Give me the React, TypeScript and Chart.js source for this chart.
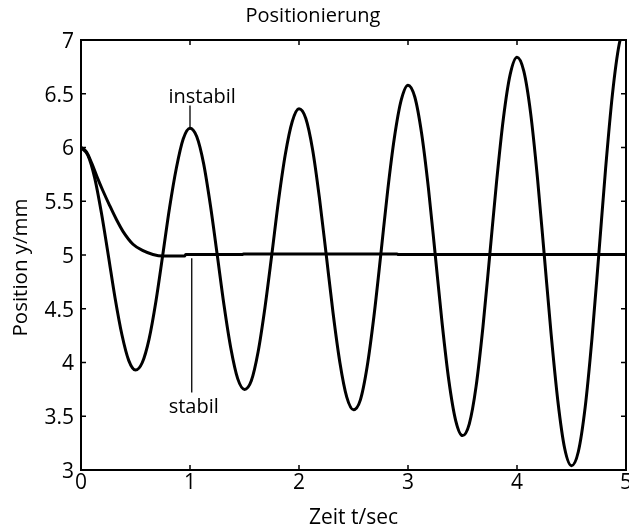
import React, { useEffect, useRef } from "react";
import { Chart, registerables } from "chart.js";

Chart.register(...registerables);

// ---- data ----
const tInstabil = [
  0, 0.0625, 0.125, 0.1875, 0.25, 0.3125, 0.375, 0.4375,
  0.5, 0.5625, 0.625, 0.6875, 0.75, 0.8125, 0.875, 0.9375,
  1, 1.0625, 1.125, 1.1875, 1.25, 1.3125, 1.375, 1.4375,
  1.5, 1.5625, 1.625, 1.6875, 1.75, 1.8125, 1.875, 1.9375,
  2, 2.0625, 2.125, 2.1875, 2.25, 2.3125, 2.375, 2.4375,
  2.5, 2.5625, 2.625, 2.6875, 2.75, 2.8125, 2.875, 2.9375,
  3, 3.0625, 3.125, 3.1875, 3.25, 3.3125, 3.375, 3.4375,
  3.5, 3.5625, 3.625, 3.6875, 3.75, 3.8125, 3.875, 3.9375,
  4, 4.0625, 4.125, 4.1875, 4.25, 4.3125, 4.375, 4.4375,
  4.5, 4.5625, 4.625, 4.6875, 4.75, 4.8125, 4.875, 4.9375,
  5,
];
const yInstabil = [
  6.0, 5.93, 5.72, 5.39, 5.0, 4.6, 4.26, 4.02,
  3.93, 4.0, 4.22, 4.57, 5.0, 5.44, 5.81, 6.08,
  6.18, 6.1, 5.85, 5.46, 5.0, 4.53, 4.13, 3.85,
  3.75, 3.83, 4.1, 4.51, 5.0, 5.51, 5.94, 6.24,
  6.36, 6.27, 5.98, 5.53, 5.0, 4.46, 4.0, 3.68,
  3.56, 3.65, 3.96, 4.43, 5.0, 5.59, 6.09, 6.44,
  6.58, 6.47, 6.13, 5.62, 5.0, 4.37, 3.83, 3.46,
  3.32, 3.43, 3.78, 4.33, 5.0, 5.68, 6.27, 6.68,
  6.84, 6.71, 6.32, 5.72, 5.0, 4.27, 3.64, 3.2,
  3.04, 3.17, 3.58, 4.22, 5.0, 5.8, 6.49, 6.96,
  7.15,
];

const tStabil = [0, 0.05, 0.1, 0.15, 0.2, 0.263, 0.325, 0.385, 0.477, 0.569, 0.66, 0.75, 0.95, 0.96, 1.48, 1.49, 2.9, 2.91, 5];
const yStabil = [6, 5.96, 5.85, 5.72, 5.6, 5.46, 5.33, 5.22, 5.1, 5.04, 5.005, 4.99, 4.99, 5.005, 5.005, 5.01, 5.01, 5.005, 5.005];

const xTickValues = [0, 1, 2, 3, 4, 5];
const xTickLabels = ["0", "1", "2", "3", "4", "5"];
const yTickValues = [3, 3.5, 4, 4.5, 5, 5.5, 6, 6.5, 7];
const yTickLabels = ["3", "3.5", "4", "4.5", "5", "5.5", "6", "6.5", "7"];

const titleText = "Positionierung";
const xTitle = "Zeit t/sec";
const yTitle = "Position y/mm";

// annotation labels (data coordinates)
const annoLabels = ["instabil", "stabil"];
const annoLabelX = [1.112, 1.034];
const annoLabelY = [6.414, 3.53];
const annoLineX = [1.0, 1.016];
const annoLineY0 = [6.39, 4.97];
const annoLineY1 = [6.18, 3.72];

const FONT = "'Open Sans'";
const TICK_LEN = 5;

export default function App() {
  const ref = useRef<HTMLCanvasElement | null>(null);

  useEffect(() => {
    const canvas = ref.current;
    if (!canvas) return;

    const framePlugin = {
      id: "frame",
      afterDatasetsDraw(chart: any) {
        const { ctx, chartArea: a, scales } = chart;
        const xs = scales.x;
        const ys = scales.y;
        ctx.save();
        ctx.strokeStyle = "#000";
        ctx.lineWidth = 2;
        ctx.strokeRect(a.left, a.top, a.right - a.left, a.bottom - a.top);
        ctx.lineWidth = 1.5;
        ctx.beginPath();
        xs.ticks.forEach((t: any) => {
          const px = xs.getPixelForValue(t.value);
          ctx.moveTo(px, a.bottom);
          ctx.lineTo(px, a.bottom - TICK_LEN);
          ctx.moveTo(px, a.top);
          ctx.lineTo(px, a.top + TICK_LEN);
        });
        ys.ticks.forEach((t: any) => {
          const py = ys.getPixelForValue(t.value);
          ctx.moveTo(a.left, py);
          ctx.lineTo(a.left + TICK_LEN, py);
          ctx.moveTo(a.right, py);
          ctx.lineTo(a.right - TICK_LEN, py);
        });
        ctx.stroke();

        // annotations
        ctx.lineWidth = 1.3;
        ctx.beginPath();
        for (let i = 0; i < annoLabels.length; i++) {
          const lx = xs.getPixelForValue(annoLineX[i]);
          ctx.moveTo(lx, ys.getPixelForValue(annoLineY0[i]));
          ctx.lineTo(lx, ys.getPixelForValue(annoLineY1[i]));
        }
        ctx.stroke();
        ctx.fillStyle = "#000";
        ctx.font = `20px ${FONT}`;
        ctx.textAlign = "center";
        ctx.textBaseline = "alphabetic";
        for (let i = 0; i < annoLabels.length; i++) {
          ctx.fillText(
            annoLabels[i],
            xs.getPixelForValue(annoLabelX[i]),
            ys.getPixelForValue(annoLabelY[i])
          );
        }

        // y axis title
        ctx.font = `20.5px ${FONT}`;
        ctx.translate(27, (a.top + a.bottom) / 2 + 12.5);
        ctx.rotate(-Math.PI / 2);
        ctx.textAlign = "center";
        ctx.textBaseline = "alphabetic";
        ctx.fillText(yTitle, 0, 0);
        ctx.restore();
      },
    };

    const chart = new Chart(canvas, {
      type: "line",
      data: {
        datasets: [
          {
            label: "instabil",
            data: tInstabil.map((t, i) => ({ x: t, y: yInstabil[i] })),
            borderColor: "#000",
            borderWidth: 3,
            pointRadius: 0,
            fill: false,
            cubicInterpolationMode: "monotone",
          },
          {
            label: "stabil",
            data: tStabil.map((t, i) => ({ x: t, y: yStabil[i] })),
            borderColor: "#000",
            borderWidth: 3,
            pointRadius: 0,
            fill: false,
            cubicInterpolationMode: "monotone",
          },
        ],
      },
      options: {
        animation: false,
        responsive: false,
        events: [],
        layout: { padding: { left: 0, right: 3, top: 0, bottom: 0 }, autoPadding: false },
        plugins: {
          legend: { display: false },
          tooltip: { enabled: false },
          title: {
            display: true,
            text: titleText,
            color: "#000",
            font: { family: FONT, size: 20, weight: "normal", lineHeight: 1.2 },
            padding: { top: 4, bottom: 12 },
          },
        },
        scales: {
          x: {
            type: "linear",
            min: 0,
            max: 5,
            afterBuildTicks: (s: any) => {
              s.ticks = xTickValues.map((v) => ({ value: v }));
            },
            afterFit: (s: any) => {
              s.height = 58;
              s.paddingLeft = 0;
              s.paddingRight = 0;
            },
            grid: { display: false, drawTicks: false },
            border: { display: false },
            ticks: {
              color: "#000",
              font: { family: FONT, size: 21 },
              padding: 0,
              maxRotation: 0,
              autoSkip: false,
              callback: (_v: any, i: number) => xTickLabels[i],
            },
            title: {
              display: true,
              text: xTitle,
              color: "#000",
              font: { family: FONT, size: 21, lineHeight: 1 },
              padding: { top: 0, bottom: -1 },
            },
          },
          y: {
            type: "linear",
            min: 3,
            max: 7,
            afterBuildTicks: (s: any) => {
              s.ticks = yTickValues.map((v) => ({ value: v }));
            },
            afterFit: (s: any) => {
              s.width = 81;
              s.paddingTop = 0;
              s.paddingBottom = 0;
            },
            grid: { display: false, drawTicks: false },
            border: { display: false },
            ticks: {
              color: "#000",
              font: { family: FONT, size: 21 },
              padding: 7,
              labelOffset: 2,
              autoSkip: false,
              callback: (_v: any, i: number) => yTickLabels[i],
            },
          },
        },
      },
      plugins: [framePlugin],
    } as any);

    return () => chart.destroy();
  }, []);

  return (
    <div style={{ position: "fixed", left: 0, top: 0, width: 629, height: 528, background: "#fff" }}>
      <canvas ref={ref} width={629} height={528} style={{ display: "block" }} />
    </div>
  );
}
